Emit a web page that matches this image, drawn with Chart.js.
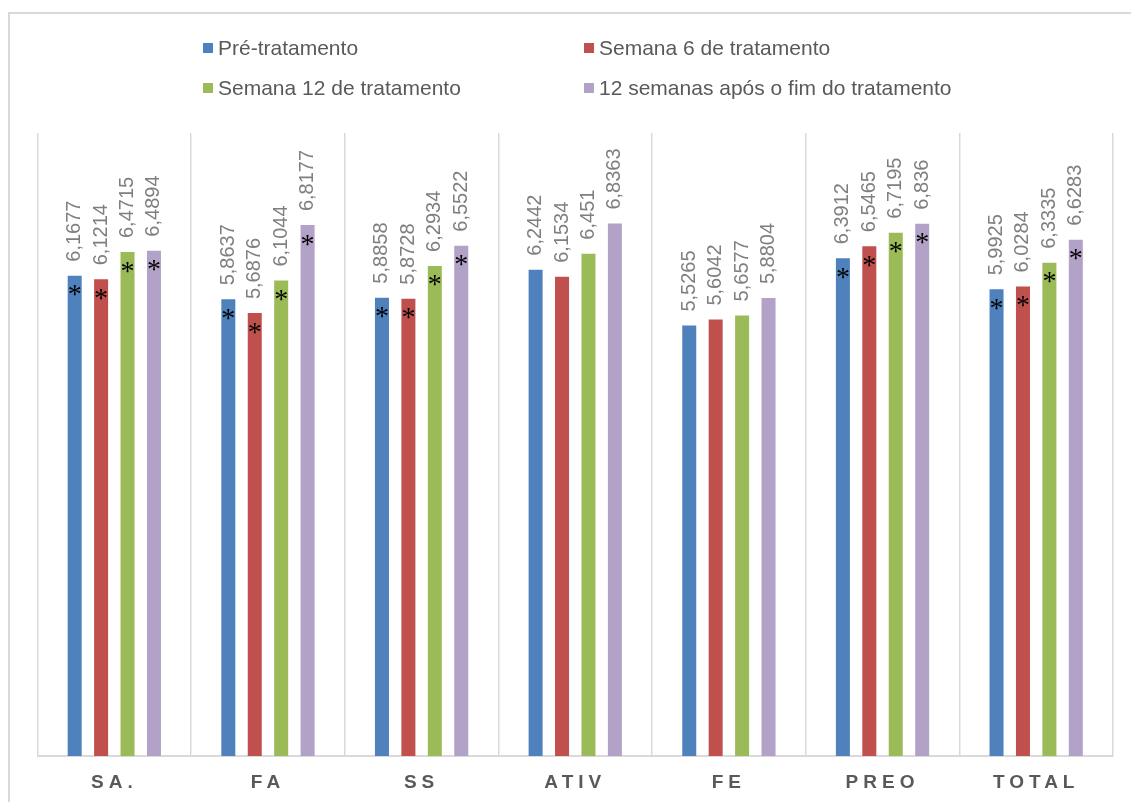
<!DOCTYPE html>
<html>
<head>
<meta charset="utf-8">
<script src="https://cdn.jsdelivr.net/npm/chart.js@4/dist/chart.umd.min.js"></script>
<style>
  html, body { margin: 0; padding: 0; background: #ffffff; overflow: hidden; }
  #frame { position: absolute; left: 8px; top: 12px; width: 1140px; height: 820px; border: 2px solid #d9d9d9; box-sizing: border-box; }
  #c { position: absolute; left: 0; top: 0; }
</style>
</head>
<body>
<div id="frame"></div>
<canvas id="c" width="1131" height="802"></canvas>
<script>
const categories = ['SA.', 'FA', 'SS', 'ATIV', 'FE', 'PREO', 'TOTAL'];
const seriesNames = ['Pré-tratamento', 'Semana 6 de tratamento', 'Semana 12 de tratamento', '12 semanas após o fim do tratamento'];
const preTreatment = [6.1677, 5.8637, 5.8858, 6.2442, 5.5265, 6.3912, 5.9925];
const week6 = [6.1214, 5.6876, 5.8728, 6.1534, 5.6042, 6.5465, 6.0284];
const week12 = [6.4715, 6.1044, 6.2934, 6.451, 5.6577, 6.7195, 6.3335];
const after12Weeks = [6.4894, 6.8177, 6.5522, 6.8363, 5.8804, 6.836, 6.6283];
const significant = [true, true, true, false, false, true, true];
const seriesColors = ['#4F81BD', '#C0504D', '#9BBB59', '#B3A2C7'];

const seriesValues = [preTreatment, week6, week12, after12Weeks];

const valueLabels = {
  id: 'valueLabels',
  beforeDraw(chart) { chart.ctx.letterSpacing = '5px'; },
  beforeDatasetsDraw(chart) { chart.ctx.letterSpacing = '0px'; },
  afterDatasetsDraw(chart) {
    const ctx = chart.ctx;
    ctx.save();
    ctx.letterSpacing = '0px';
    chart.data.datasets.forEach((ds, i) => {
      const meta = chart.getDatasetMeta(i);
      meta.data.forEach((bar, j) => {
        const txt = String(ds.data[j]).replace('.', ',');
        ctx.save();
        ctx.translate(bar.x, bar.y - 14);
        ctx.rotate(-Math.PI / 2);
        ctx.font = '20px "Liberation Sans", Arial, sans-serif';
        ctx.fillStyle = '#7f7f7f';
        ctx.textAlign = 'left';
        ctx.textBaseline = 'middle';
        ctx.fillText(txt, 0, 0);
        ctx.restore();
        if (significant[j]) {
          ctx.save();
          ctx.font = '28px "Liberation Serif", "Times New Roman", serif';
          ctx.fillStyle = '#000000';
          ctx.textAlign = 'center';
          ctx.textBaseline = 'alphabetic';
          const m = ctx.measureText('*');
          const cy = bar.y + 15;
          const by = cy + (m.actualBoundingBoxAscent - m.actualBoundingBoxDescent) / 2;
          ctx.fillText('*', bar.x, by);
          ctx.restore();
        }
      });
    });
    ctx.restore();
  },
  afterDraw(chart) {
    const ctx = chart.ctx;
    ctx.save();
    ctx.letterSpacing = '0px';
    const cols = [203, 584];
    const rows = [48, 88];
    chart.data.datasets.forEach((ds, i) => {
      const x = cols[i % 2];
      const y = rows[Math.floor(i / 2)];
      ctx.fillStyle = ds.backgroundColor;
      ctx.fillRect(x, y - 5, 10, 10);
      ctx.font = '21px "Liberation Sans", Arial, sans-serif';
      ctx.fillStyle = '#595959';
      ctx.textAlign = 'left';
      ctx.textBaseline = 'middle';
      ctx.fillText(ds.label, x + 15, y + 1);
    });
    ctx.restore();
  }
};

new Chart(document.getElementById('c'), {
  type: 'bar',
  data: {
    labels: categories,
    datasets: seriesNames.map((name, i) => ({
      label: name,
      data: seriesValues[i],
      backgroundColor: seriesColors[i],
      borderWidth: 0,
      barPercentage: 0.53,
      categoryPercentage: 0.688
    }))
  },
  options: {
    responsive: false,
    devicePixelRatio: 1,
    animation: false,
    layout: { padding: { left: 37.5, right: 18, top: 133, bottom: 0 } },
    plugins: {
      legend: { display: false },
      tooltip: { enabled: false }
    },
    scales: {
      x: {
        grid: { color: '#d9d9d9', lineWidth: 1.5, drawTicks: false, offset: true },
        border: { color: '#d9d9d9', width: 2 },
        ticks: {
          color: '#595959',
          padding: 15,
          font: { family: '"Liberation Sans", Arial, sans-serif', size: 19, weight: 'bold' },
          maxRotation: 0
        },
        afterFit(scale) { scale.height = 46; }
      },
      y: {
        display: false,
        min: 0,
        max: 8
      }
    }
  },
  plugins: [valueLabels]
});
</script>
</body>
</html>
